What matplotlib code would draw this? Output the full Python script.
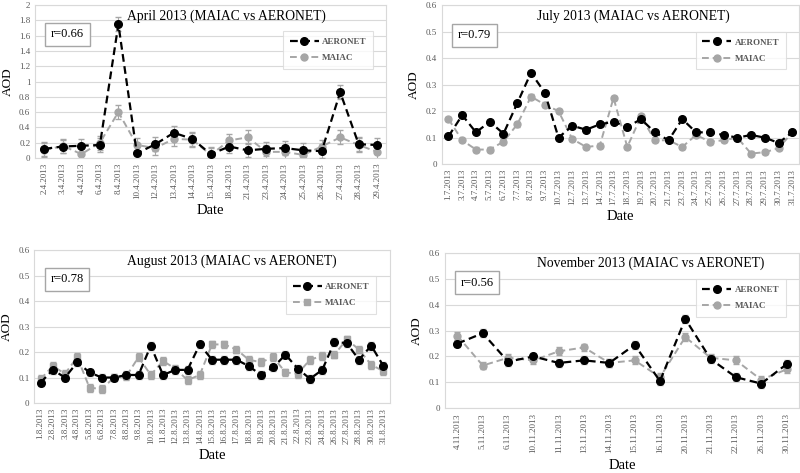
import matplotlib.pyplot as plt
from matplotlib.lines import Line2D

plt.rcParams['font.family'] = ['Liberation Serif', 'DejaVu Serif']

# April 2013
apr_dates = ['2.4.2013', '3.4.2013', '4.4.2013', '6.4.2013', '8.4.2013', '10.4.2013', '12.4.2013',
             '13.4.2013', '14.4.2013', '15.4.2013', '18.4.2013', '21.4.2013', '23.4.2013', '24.4.2013',
             '25.4.2013', '26.4.2013', '27.4.2013', '28.4.2013', '29.4.2013']
apr_aeronet = [0.12, 0.15, 0.16, 0.17, 1.75, 0.06, 0.18, 0.33, 0.25, 0.05, 0.15, 0.10, 0.12, 0.13,
               0.10, 0.09, 0.86, 0.18, 0.17]
apr_maiac = [0.10, 0.16, 0.05, 0.20, 0.60, 0.17, 0.13, 0.25, 0.24, 0.04, 0.23, 0.27, 0.08, 0.08,
             0.04, 0.15, 0.27, 0.17, 0.08]

# July 2013
jul_dates = ['1.7.2013', '3.7.2013', '4.7.2013', '5.7.2013', '6.7.2013', '7.7.2013', '8.7.2013',
             '9.7.2013', '10.7.2013', '12.7.2013', '13.7.2013', '14.7.2013', '17.7.2013', '18.7.2013',
             '19.7.2013', '20.7.2013', '21.7.2013', '23.7.2013', '24.7.2013', '25.7.2013', '26.7.2013',
             '27.7.2013', '28.7.2013', '29.7.2013', '30.7.2013', '31.7.2013']
jul_aeronet = [0.105, 0.185, 0.12, 0.16, 0.115, 0.23, 0.345, 0.27, 0.10, 0.145, 0.13, 0.15, 0.16,
               0.14, 0.17, 0.12, 0.09, 0.17, 0.12, 0.12, 0.11, 0.10, 0.11, 0.10, 0.08, 0.12]
jul_maiac = [0.17, 0.09, 0.055, 0.055, 0.085, 0.15, 0.255, 0.225, 0.20, 0.095, 0.065, 0.07, 0.25,
             0.065, 0.18, 0.09, 0.09, 0.065, 0.11, 0.085, 0.09, 0.10, 0.04, 0.045, 0.06, 0.12]

# August 2013
aug_dates = ['1.8.2013', '2.8.2013', '3.8.2013', '4.8.2013', '5.8.2013', '6.8.2013', '7.8.2013',
             '8.8.2013', '9.8.2013', '10.8.2013', '11.8.2013', '12.8.2013', '13.8.2013', '14.8.2013',
             '15.8.2013', '16.8.2013', '17.8.2013', '18.8.2013', '19.8.2013', '20.8.2013', '21.8.2013',
             '22.8.2013', '23.8.2013', '24.8.2013', '26.8.2013', '27.8.2013', '28.8.2013', '30.8.2013',
             '31.8.2013']
aug_aeronet = [0.08, 0.13, 0.10, 0.16, 0.12, 0.10, 0.10, 0.11, 0.11, 0.225, 0.11, 0.13, 0.13, 0.23,
               0.17, 0.17, 0.17, 0.145, 0.11, 0.14, 0.19, 0.135, 0.095, 0.13, 0.24, 0.235, 0.17,
               0.225, 0.145]
aug_maiac = [0.093, 0.145, 0.115, 0.18, 0.06, 0.055, 0.10, 0.105, 0.18, 0.11, 0.165, 0.135, 0.09,
             0.11, 0.23, 0.23, 0.21, 0.17, 0.16, 0.18, 0.12, 0.115, 0.17, 0.185, 0.19, 0.25, 0.21,
             0.15, 0.125]

# November 2013
nov_dates = ['4.11.2013', '5.11.2013', '6.11.2013', '10.11.2013', '11.11.2013', '13.11.2013',
             '14.11.2013', '15.11.2013', '16.11.2013', '20.11.2013', '21.11.2013', '22.11.2013',
             '26.11.2013', '30.11.2013']
nov_aeronet = [0.25, 0.29, 0.18, 0.20, 0.175, 0.185, 0.175, 0.245, 0.105, 0.345, 0.19, 0.12, 0.095, 0.17]
nov_maiac = [0.28, 0.165, 0.195, 0.185, 0.22, 0.235, 0.175, 0.185, 0.12, 0.275, 0.195, 0.185, 0.11, 0.15]

titles = ['April 2013 (MAIAC vs AERONET)', 'July 2013 (MAIAC vs AERONET)',
          'August 2013 (MAIAC vs AERONET)', 'November 2013 (MAIAC vs AERONET)']
r_values = ['r=0.66', 'r=0.79', 'r=0.78', 'r=0.56']

# data, ymax, tick step, error bar size, MAIAC marker, axes rect, title x
panels = [
    (apr_dates, apr_aeronet, apr_maiac, 2.0, 0.2, 0.09, 'o', [0.044, 0.666, 0.439, 0.323], 0.545),
    (jul_dates, jul_aeronet, jul_maiac, 0.6, 0.1, 0.008, 'o', [0.552, 0.653, 0.447, 0.336], 0.535),
    (aug_dates, aug_aeronet, aug_maiac, 0.6, 0.1, 0.015, 's', [0.043, 0.148, 0.444, 0.323], 0.555),
    (nov_dates, nov_aeronet, nov_maiac, 0.6, 0.1, 0.015, 'o', [0.556, 0.137, 0.443, 0.328], 0.58),
]

fig = plt.figure(figsize=(8, 4.73), dpi=100)
grey = '#a6a6a6'
tick_grey = '#595959'
dash = (3.5, 2)

for i, (dates, aer, mai, ymax, step, err, mmark, pos, tx) in enumerate(panels):
    ax = fig.add_axes(pos)
    x = list(range(len(dates)))
    ax.errorbar(x, aer, yerr=err, color='black', ecolor=grey, elinewidth=0.8, capsize=2,
                linestyle=(0, dash), linewidth=1.6, marker='o', markersize=5.5, zorder=3)
    ax.errorbar(x, mai, yerr=err, color=grey, ecolor=grey, elinewidth=0.8, capsize=2,
                linestyle=(0, dash), linewidth=1.4, marker=mmark, markersize=5, zorder=2)
    ax.set_xlim(-0.5, len(dates) - 0.5)
    ax.set_ylim(0, ymax)
    ticks = [round(k * step, 1) for k in range(int(round(ymax / step)) + 1)]
    ax.set_yticks(ticks)
    ax.set_yticklabels([('%g' % t) for t in ticks])
    ax.set_xticks(x)
    ax.set_xticklabels(dates, rotation=90)
    ax.tick_params(axis='both', labelsize=6.5, colors=tick_grey, length=0)
    ax.grid(axis='y', color='#d9d9d9', linewidth=0.8)
    ax.set_axisbelow(True)
    for s in ax.spines.values():
        s.set_color('#d9d9d9')
        s.set_linewidth(0.8)
    ax.set_ylabel('AOD', fontsize=9.5)
    ax.set_xlabel('Date', fontsize=10.5)
    ax.text(tx, 0.975, titles[i], transform=ax.transAxes, fontsize=9.8, ha='center', va='top',
            zorder=5)
    ax.text(0.045, 0.81, r_values[i], transform=ax.transAxes, fontsize=9, va='center',
            bbox=dict(boxstyle='square,pad=0.45', facecolor='white', edgecolor=grey, linewidth=1))
    handles = [Line2D([], [], color='black', linestyle=(0, dash), linewidth=1.6, marker='o', markersize=5.5),
               Line2D([], [], color=grey, linestyle=(0, dash), linewidth=1.4, marker=mmark, markersize=5)]
    leg = ax.legend(handles, ['AERONET', 'MAIAC'], loc='upper right', bbox_to_anchor=(0.975, 0.86),
                    frameon=True, fancybox=False, edgecolor='#d9d9d9', handlelength=3.2,
                    borderpad=0.7, labelspacing=0.9, handletextpad=0.4,
                    prop={'weight': 'bold', 'size': 6.5})
    leg.get_frame().set_linewidth(0.8)
    for t in leg.get_texts():
        t.set_color(tick_grey)

fig.savefig('out.png', dpi=100)
